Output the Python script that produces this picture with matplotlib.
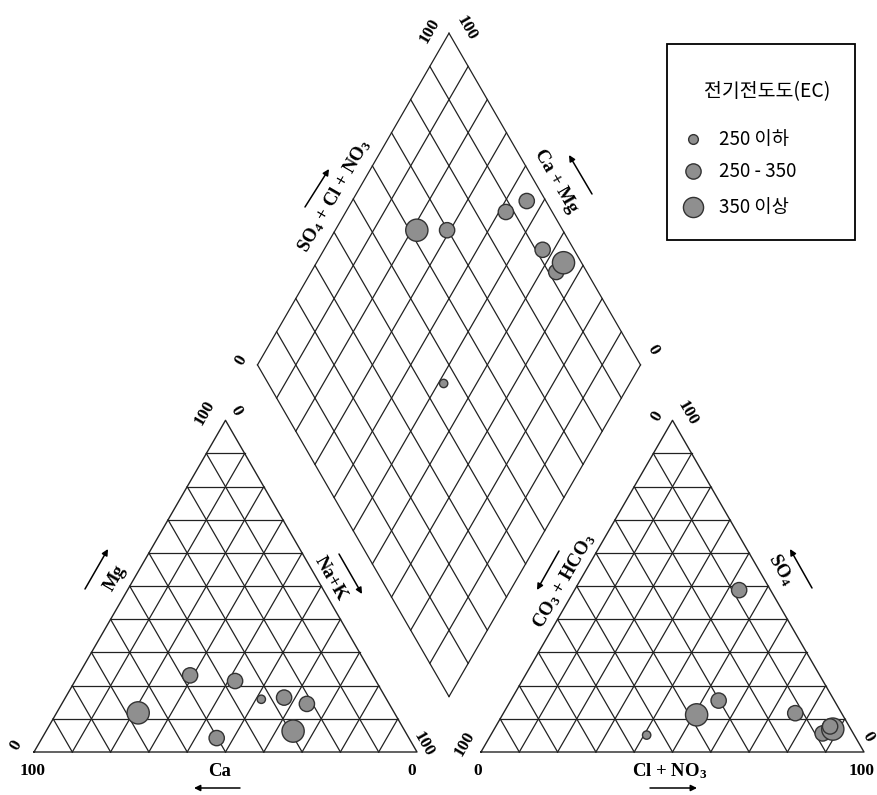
import numpy as np
import matplotlib.pyplot as plt
from matplotlib.patches import Rectangle

plt.rcParams["font.family"] = ["Liberation Serif", "DejaVu Serif"]
plt.rcParams["mathtext.fontset"] = "custom"
plt.rcParams["mathtext.rm"] = "Liberation Serif:bold"
plt.rcParams["mathtext.it"] = "Liberation Serif:bold"
plt.rcParams["mathtext.bf"] = "Liberation Serif:bold"

# 시료별 양이온 조성 (%)
ca = [47.7, 36.8, 32.7, 26.5, 21.5, 66.9, 29.2, 50.2]
mg = [23.1, 21.4, 15.9, 16.4, 14.5, 11.8, 6.3, 4.2]
na_k = [29.2, 41.8, 51.4, 57.1, 64.0, 21.3, 64.5, 45.6]

# 시료별 음이온 조성 (%)
co3_hco3 = [30.2, 12.1, 54.2, 8.2, 8.0, 38.1, 4.7, 5.0]
so4 = [15.5, 11.7, 5.1, 48.8, 5.6, 11.2, 6.9, 7.7]
cl_no3 = [54.3, 76.2, 40.7, 43.0, 86.4, 50.7, 88.4, 87.3]

# 전기전도도 등급 (0: 250 이하, 1: 250-350, 2: 350 이상)
ec_class = [1, 1, 0, 1, 1, 2, 2, 1]
ec_labels = ["250 이하", "250 - 350", "350 이상"]

S = 3.83  # px per unit (side = 100 units)
H = np.sqrt(3) / 2
GAP = 64 / S
OFF = 100 + GAP
BX, BY = 100 + GAP / 2, GAP * H
msize = [6, 11, 16]
fill = "#8f8f8f"
edge = "#333333"
lc = "#222222"


def px(x, y):
    # pixel position in the picture -> plot units
    return (x - 34) / S, (752 - y) / S


fig = plt.figure(figsize=(8.78, 7.95), dpi=100)
ax = fig.add_axes([0, 0, 1, 1])
ax.set_xlim(-34 / S, (878 - 34) / S)
ax.set_ylim(-(795 - 752) / S, 752 / S)
ax.axis("off")


def draw_tri(x0):
    ax.plot([x0, x0 + 100, x0 + 50, x0], [0, 0, 100 * H, 0], color=lc, lw=1)
    for i in range(1, 10):
        t = 10 * i
        ax.plot([x0 + t / 2, x0 + 100 - t / 2], [t * H, t * H], color=lc, lw=0.9)
        ax.plot([x0 + t, x0 + t + (100 - t) / 2], [0, (100 - t) * H], color=lc, lw=0.9)
        ax.plot([x0 + t, x0 + t / 2], [0, t * H], color=lc, lw=0.9)


draw_tri(0)
draw_tri(OFF)

# diamond
L = np.array([-50, 100 * H])
R = np.array([50, 100 * H])
B = np.array([BX, BY])
for i in range(0, 11):
    f = i / 10
    p0 = B + f * L
    p1 = p0 + R
    ax.plot([p0[0], p1[0]], [p0[1], p1[1]], color=lc, lw=0.9)
    p0 = B + f * R
    p1 = p0 + L
    ax.plot([p0[0], p1[0]], [p0[1], p1[1]], color=lc, lw=0.9)

mg_a, nak_a = np.array(mg), np.array(na_k)
so4_a, cl_a = np.array(so4), np.array(cl_no3)
cat_x = nak_a + mg_a / 2
cat_y = mg_a * H
an_x = OFF + cl_a + so4_a / 2
an_y = so4_a * H
a = (100 - nak_a) / 100
b = (so4_a + cl_a) / 100
dia_x = BX + a * L[0] + b * R[0]
dia_y = BY + a * L[1] + b * R[1]

sizes = np.array([msize[c] ** 2 for c in ec_class])
for xs, ys in [(cat_x, cat_y), (an_x, an_y), (dia_x, dia_y)]:
    ax.scatter(xs, ys, s=sizes, c=fill, edgecolors=edge, linewidths=1, zorder=5)

tk = dict(fontsize=12.5, fontweight="bold", ha="center", va="center")


def txt(x, y, s, rot=0, **kw):
    d = dict(tk)
    d.update(kw)
    ax.text(*px(x, y), s, rotation=rot, **d)


def arrow(x0, y0, x1, y1):
    ax.annotate("", xy=px(x1, y1), xytext=px(x0, y0),
                arrowprops=dict(arrowstyle="-|>", color="black", lw=1.1,
                                mutation_scale=9, shrinkA=0, shrinkB=0))


nm = 13.5

# 왼쪽 삼각형 (양이온)
txt(205, 413, "100", 60)
txt(236, 411, "0", -60)
txt(16, 745, "0", 60)
txt(33, 771, "100")
txt(220, 771, "Ca", fontsize=nm)
arrow(240, 788, 194, 788)
txt(412, 771, "0")
txt(424, 744, "100", -60)
txt(115, 578, "Mg", 60, fontsize=nm)
arrow(85, 589, 108, 549)
txt(331, 579, "Na+K", -60, fontsize=nm)
arrow(339, 554, 362, 594)

# 오른쪽 삼각형 (음이온)
txt(657, 416, "0", 60)
txt(688, 413, "100", -60)
txt(465, 744, "100", 60)
txt(478, 771, "0")
txt(670, 771, "Cl + NO$_3$", fontsize=nm)
arrow(650, 788, 697, 788)
txt(862, 771, "100")
txt(868, 737, "0", -60)
txt(564, 581, "CO$_3$ + HCO$_3$", 60, fontsize=nm)
arrow(559, 551, 537, 590)
txt(781, 570, "SO$_4$", -60, fontsize=nm)
arrow(812, 588, 790, 549)

# 다이아몬드
txt(430, 31, "100", 60)
txt(467, 28, "100", -60)
txt(241, 360, "0", 60)
txt(653, 350, "0", -60)
txt(334, 196, "SO$_4$ + Cl + NO$_3$", 60, fontsize=nm)
arrow(305, 207, 329, 169)
txt(556, 181, "Ca + Mg", -60, fontsize=nm)
arrow(592, 194, 569, 155)

# 범례
kr = dict(family=["Noto Sans CJK KR", "DejaVu Sans"])
x0, y0 = px(667, 240)
x1, y1 = px(855, 44)
ax.add_patch(Rectangle((x0, y0), x1 - x0, y1 - y0, facecolor="white",
                       edgecolor="black", lw=1.3, zorder=6))
ax.text(*px(767, 92), "전기전도도(EC)", ha="center", va="center",
        fontsize=14, fontweight="medium", zorder=7, **kr)
leg_msize = [7, 11, 14.5]
for i, yy in enumerate([139, 171, 207]):
    ax.scatter(*px(693, yy), s=leg_msize[i] ** 2, c=fill, edgecolors=edge,
               linewidths=1, zorder=7)
    ax.text(*px(719, yy), ec_labels[i], ha="left", va="center",
            fontsize=13.5, zorder=7, **kr)

fig.savefig("out.png", dpi=100)
